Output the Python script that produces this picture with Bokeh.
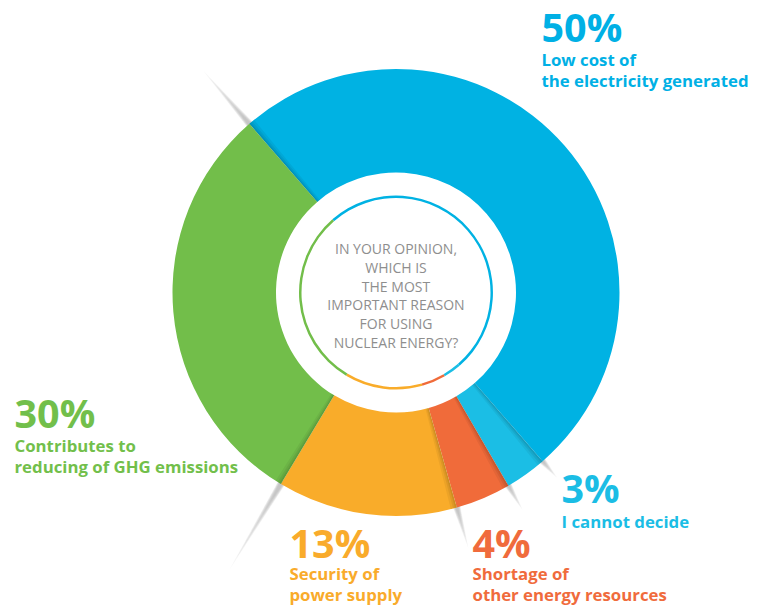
import numpy as np
from bokeh.plotting import figure
from bokeh.models import Range1d
from bokeh.embed import file_html
from bokeh.resources import INLINE
from bokeh.core.properties import value

# ---------------- data ----------------
categories = ["Low cost of the electricity generated", "I cannot decide",
              "Shortage of other energy resources", "Security of power supply",
              "Contributes to reducing of GHG emissions"]
values = [50, 3, 4, 13, 30]
pct_labels = ["50%", "3%", "4%", "13%", "30%"]
desc_lines = [["Low cost of", "the electricity generated"],
              ["I cannot decide"],
              ["Shortage of", "other energy resources"],
              ["Security of", "power supply"],
              ["Contributes to", "reducing of GHG emissions"]]
colors = ["#00b2e3", "#1bbee5", "#f06b3a", "#f9ac2a", "#72be4a"]
text_colors = ["#00b0e5", "#1bbde5", "#f06b3c", "#f9ab2b", "#72bf4b"]
question_lines = ["IN YOUR OPINION,", "WHICH IS", "THE MOST",
                  "IMPORTANT REASON", "FOR USING", "NUCLEAR ENERGY?"]

# ---------------- layout ----------------
W, H = 765, 606
cx, cy = 395.5, H - 292
R_OUT, R_IN = 223.5, 120
RING_IN, RING_OUT = 94.5, 97.0
START_CW = -41.0  # degrees clockwise from 12 o'clock

PCT_FS, DESC_FS = 39.5, 16.8
label_pos = [(541, 41.5), (561, 502), (472, 557), (289, 557), (14, 427)]  # (x, baseline) image coords
desc_first = [65, 527, 579, 579, 451]
desc_step = 21
shadow_len = [70, 22, 28, 42, 100]  # beyond outer radius, at each segment's start boundary

p = figure(width=W, height=H, x_range=Range1d(0, W), y_range=Range1d(0, H),
           output_backend="svg", toolbar_location=None, min_border=0, title=None,
           x_axis_location=None, y_axis_location=None)
p.grid.visible = False
p.outline_line_color = None
p.background_fill_color = "white"
p.border_fill_color = "white"

total = float(sum(values))
cum = np.concatenate([[0], np.cumsum(values)])
start_cw = START_CW + 360.0 * cum[:-1] / total
end_cw = START_CW + 360.0 * cum[1:] / total


def math_rad(cw_deg):
    return np.radians(90.0 - np.asarray(cw_deg, dtype=float))


def pt(r, cw_deg):
    a = np.radians(cw_deg)
    return cx + r * np.sin(a), cy + r * np.cos(a)


# outer shadows (blades) at boundaries
for i, s in enumerate(start_cw):
    L = shadow_len[i]
    half = np.degrees(4.0 / R_OUT)
    for k in range(7):
        Lk = L * (1.0 - k * 0.13)
        hk = half * (1.0 - k * 0.08)
        b1 = pt(R_OUT - 3, s - hk)
        b2 = pt(R_OUT - 3, s + hk)
        tip = pt(R_OUT + Lk, s)
        p.patch([b1[0], tip[0], b2[0]], [b1[1], tip[1], b2[1]],
                fill_color="#8a8a8a", fill_alpha=0.085, line_color=None)

# main donut
p.annular_wedge(x=cx, y=cy, inner_radius=R_IN, outer_radius=R_OUT,
                start_angle=math_rad(start_cw), end_angle=math_rad(end_cw),
                direction="clock", fill_color=colors, line_color=None)

# fold shading along each boundary
for s in start_cw:
    for w, a in [(0.5, 0.07), (1.0, 0.06), (1.6, 0.05)]:
        p.annular_wedge(x=cx, y=cy, inner_radius=R_IN, outer_radius=R_OUT,
                        start_angle=math_rad(s), end_angle=math_rad(s + w),
                        direction="clock", fill_color="black", fill_alpha=a,
                        line_color=None)

# thin inner ring
p.annular_wedge(x=cx, y=cy, inner_radius=RING_IN, outer_radius=RING_OUT,
                start_angle=math_rad(start_cw), end_angle=math_rad(end_cw),
                direction="clock", fill_color=colors, line_color=None)

# center question
q_y0 = 248
for j, line in enumerate(question_lines):
    p.text(x=[cx], y=[H - (q_y0 + j * 18.8)], text=[line],
           text_font=value("Open Sans"), text_font_size="14px",
           text_color="#8e8e8e", text_align="center", text_baseline="middle")


def mid(baseline_img, fs):
    # convert an image-space baseline to a data-space 'middle' anchor
    return H - (baseline_img - 0.37 * fs)


# labels
for i in range(len(values)):
    x, base = label_pos[i]
    p.text(x=[x], y=[mid(base, PCT_FS)], text=[pct_labels[i]],
           text_font=value("Open Sans"), text_font_style="bold",
           text_font_size=f"{PCT_FS}px", text_color=text_colors[i],
           text_align="left", text_baseline="middle")
    for j, line in enumerate(desc_lines[i]):
        p.text(x=[x], y=[mid(desc_first[i] + j * desc_step, DESC_FS)], text=[line],
               text_font=value("Open Sans"), text_font_style="bold",
               text_font_size=f"{DESC_FS}px", text_color=text_colors[i],
               text_align="left", text_baseline="middle")

open("out.html", "w").write(file_html(p, INLINE))
